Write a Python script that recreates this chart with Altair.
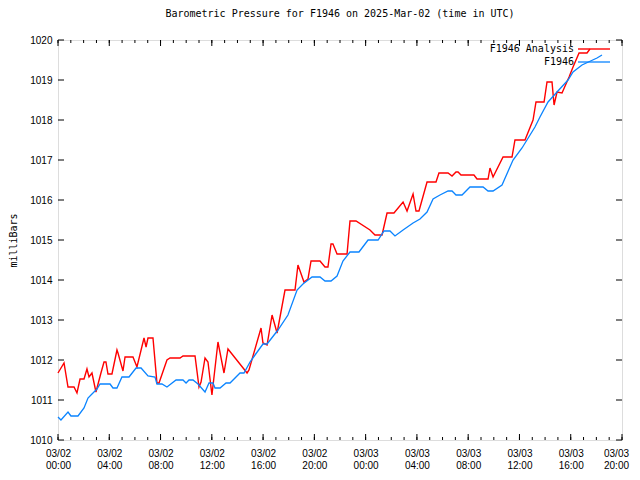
import altair as alt
import pandas as pd

# Hours after 2025-03-02 00:00 UTC and pressure (mbar)
red_hours = [0.00, 0.47, 0.78, 1.25, 1.48, 1.72, 2.03, 2.26, 2.42, 2.65, 2.96, 3.35, 3.59, 3.74,
             3.90, 4.21, 4.60, 4.68, 5.07, 5.23, 5.85, 6.16, 6.71, 6.87, 7.02, 7.41, 7.72, 7.88,
             8.50, 8.74, 9.52, 9.75, 10.69, 11.00, 11.16, 11.47, 11.70, 12.01, 12.48, 12.95,
             13.26, 14.75, 14.90, 15.84, 15.99, 16.31, 16.70, 17.09, 17.71, 18.49, 18.72, 19.19,
             19.50, 19.74, 20.44, 20.83, 21.06, 21.30, 21.45, 21.77, 22.55, 22.78, 23.25, 24.34,
             24.73, 25.28, 25.67, 26.21, 26.92, 27.23, 27.70, 27.93, 28.16, 28.79, 29.49, 29.72,
             30.43, 30.74, 31.05, 31.21, 31.44, 32.45, 32.69, 33.55, 33.70, 33.94, 34.72, 35.42,
             35.65, 36.43, 37.06, 37.29, 37.92, 38.15, 38.54, 38.70, 38.93, 39.32, 39.87, 40.18,
             40.65, 41.27, 41.50]
red_mbar = [1011.675, 1011.925, 1011.325, 1011.325, 1011.175, 1011.525, 1011.525, 1011.775,
            1011.575, 1011.675, 1011.200, 1011.675, 1011.950, 1011.950, 1011.650, 1011.650,
            1012.250, 1012.175, 1011.725, 1012.075, 1012.075, 1011.825, 1012.550, 1012.325,
            1012.550, 1012.550, 1011.425, 1011.425, 1012.000, 1012.050, 1012.050, 1012.100,
            1012.100, 1011.325, 1011.450, 1012.050, 1011.950, 1011.125, 1012.450, 1011.675,
            1012.275, 1011.675, 1011.750, 1012.800, 1012.425, 1012.375, 1013.125, 1012.675,
            1013.750, 1013.750, 1014.375, 1013.950, 1014.025, 1014.475, 1014.475, 1014.325,
            1014.325, 1014.900, 1014.900, 1014.650, 1014.650, 1015.475, 1015.475, 1015.250,
            1015.125, 1015.125, 1015.675, 1015.675, 1015.950, 1015.725, 1016.150, 1015.725,
            1015.725, 1016.450, 1016.450, 1016.675, 1016.675, 1016.600, 1016.700, 1016.700,
            1016.625, 1016.625, 1016.525, 1016.525, 1016.800, 1016.575, 1017.075, 1017.075,
            1017.500, 1017.500, 1018.000, 1018.450, 1018.450, 1018.950, 1018.950, 1018.375,
            1018.700, 1018.675, 1019.075, 1019.325, 1019.675, 1019.675, 1019.775]

blue_hours = [0.00, 0.23, 0.78, 1.01, 1.56, 2.03, 2.34, 2.65, 3.04, 3.28, 4.06, 4.29, 4.60, 4.99,
              5.54, 6.09, 6.48, 7.02, 7.57, 7.72, 8.11, 8.50, 9.21, 9.75, 9.99, 10.22, 10.53,
              10.92, 11.47, 11.78, 12.09, 12.25, 12.64, 13.11, 13.42, 14.20, 14.51, 14.98, 15.37,
              15.99, 16.31, 17.16, 17.94, 18.65, 19.11, 19.82, 20.44, 20.83, 21.30, 21.77, 22.23,
              22.78, 23.48, 24.19, 24.97, 25.43, 25.90, 26.29, 26.92, 27.70, 28.24, 28.79, 29.26,
              29.80, 30.43, 30.74, 31.05, 31.52, 32.14, 33.16, 33.55, 33.94, 34.64, 35.50, 36.20,
              37.21, 37.60, 38.23, 38.93, 39.79, 40.18, 40.88, 42.05, 42.44]
blue_mbar = [1010.575, 1010.500, 1010.700, 1010.600, 1010.600, 1010.800, 1011.050, 1011.150,
             1011.275, 1011.400, 1011.400, 1011.300, 1011.300, 1011.575, 1011.575, 1011.800,
             1011.800, 1011.600, 1011.575, 1011.400, 1011.400, 1011.325, 1011.500, 1011.500,
             1011.425, 1011.500, 1011.500, 1011.400, 1011.200, 1011.425, 1011.425, 1011.300,
             1011.300, 1011.425, 1011.425, 1011.675, 1011.675, 1011.950, 1012.125, 1012.400,
             1012.400, 1012.750, 1013.125, 1013.750, 1013.900, 1014.075, 1014.075, 1013.975,
             1013.975, 1014.100, 1014.475, 1014.700, 1014.700, 1015.000, 1015.000, 1015.225,
             1015.225, 1015.100, 1015.250, 1015.425, 1015.525, 1015.700, 1016.025, 1016.125,
             1016.225, 1016.225, 1016.125, 1016.125, 1016.325, 1016.325, 1016.225, 1016.225,
             1016.375, 1017.000, 1017.300, 1017.825, 1018.075, 1018.450, 1018.700, 1019.000,
             1019.200, 1019.375, 1019.550, 1019.625]

x_major = list(range(0, 45, 4))
x_minor = list(range(0, 45, 1))
y_major = list(range(1010, 1021, 1))
series_names = ["F1946 Analysis", "F1946"]
series_colors = ["#ff0000", "#0a84ff"]
title_text = "Barometric Pressure for F1946 on 2025-Mar-02 (time in UTC)"
FONT = "DejaVu Sans Mono"

W, H = 564, 400
xs = alt.Scale(domain=[0, 44], nice=False, zero=False)
ys = alt.Scale(domain=[1010, 1020], nice=False, zero=False)

red_df = pd.DataFrame({"h": red_hours, "p": red_mbar})
blue_df = pd.DataFrame({"h": blue_hours, "p": blue_mbar})

label_expr = ("[datum.value < 24 ? '03/02' : '03/03', "
              "(datum.value % 24 < 10 ? '0' : '') + (datum.value % 24) + ':00']")

X_AXIS = alt.Axis(values=x_major, labelExpr=label_expr, ticks=False, tickSize=0, domain=False,
                  grid=False, title=None, labelPadding=8, labelLineHeight=12,
                  labelFlush=False, labelOverlap=False,
                  labelOffset={"condition": {"test": "datum.value >= 44", "value": -6}, "value": 0})
Y_AXIS = alt.Axis(values=y_major, format="d", ticks=False, tickSize=0, domain=False, grid=False,
                  title="milliBars", labelPadding=6, titleAngle=-90, titleX=-45, titleY=200,
                  titleAlign="center", titleBaseline="middle", titleFontWeight="normal",
                  titleFont=FONT, titleFontSize=10, labelFlush=False, labelOverlap=False)

XE = alt.X("h:Q", scale=xs, axis=X_AXIS)
YE = alt.Y("p:Q", scale=ys, axis=Y_AXIS)

red_line = alt.Chart(red_df).mark_line(color=series_colors[0], strokeWidth=1.4).encode(x=XE, y=YE)
blue_line = alt.Chart(blue_df).mark_line(color=series_colors[1], strokeWidth=1.3).encode(x=XE, y=YE)

xmaj_df = pd.DataFrame({"h": x_major})
xmin_df = pd.DataFrame({"h": x_minor})
ymaj_df = pd.DataFrame({"p": y_major})

def xticks(df, length):
    b = alt.Chart(df).mark_rule(color="black", strokeWidth=1).encode(
        x=XE, y=alt.value(H), y2=alt.value(H - length))
    t = alt.Chart(df).mark_rule(color="black", strokeWidth=1).encode(
        x=XE, y=alt.value(0), y2=alt.value(length))
    return b + t

def yticks(df, length):
    l = alt.Chart(df).mark_rule(color="black", strokeWidth=1).encode(
        y=YE, x=alt.value(0), x2=alt.value(length))
    r = alt.Chart(df).mark_rule(color="black", strokeWidth=1).encode(
        y=YE, x=alt.value(W), x2=alt.value(W - length))
    return l + r

leg_df = pd.DataFrame({"name": series_names})
leg_text0 = alt.Chart(leg_df.iloc[[0]]).mark_text(
    align="right", baseline="middle", font=FONT, fontSize=10, color="black").encode(
    text="name:N", x=alt.value(516), y=alt.value(9))
leg_text1 = alt.Chart(leg_df.iloc[[1]]).mark_text(
    align="right", baseline="middle", font=FONT, fontSize=10, color="black").encode(
    text="name:N", x=alt.value(516), y=alt.value(22))
leg_red = alt.Chart(leg_df.iloc[[0]]).mark_rule(color=series_colors[0], strokeWidth=1.4).encode(
    x=alt.value(520), x2=alt.value(552), y=alt.value(9))
leg_blue = alt.Chart(leg_df.iloc[[1]]).mark_rule(color=series_colors[1], strokeWidth=1.3).encode(
    x=alt.value(520), x2=alt.value(552), y=alt.value(22))

chart = alt.layer(
    red_line, blue_line,
    xticks(xmaj_df, 6), xticks(xmin_df, 3), yticks(ymaj_df, 6),
    leg_red, leg_blue, leg_text0, leg_text1,
).properties(
    width=W, height=H,
    title=alt.TitleParams(title_text, font=FONT, fontSize=10, fontWeight="normal",
                          anchor="middle", offset=16, color="black"),
    autosize=alt.AutoSizeParams(type="none"),
    padding={"left": 50, "top": 32, "right": 10, "bottom": 32},
).configure_view(stroke="black", strokeWidth=1).configure_axis(
    labelFont=FONT, labelFontSize=10, labelColor="black", titleFont=FONT, titleFontSize=10,
    titleFontWeight="normal", titleColor="black"
).configure(background="white")

chart.save("out.html", embed_options={"renderer": "svg", "actions": False})
